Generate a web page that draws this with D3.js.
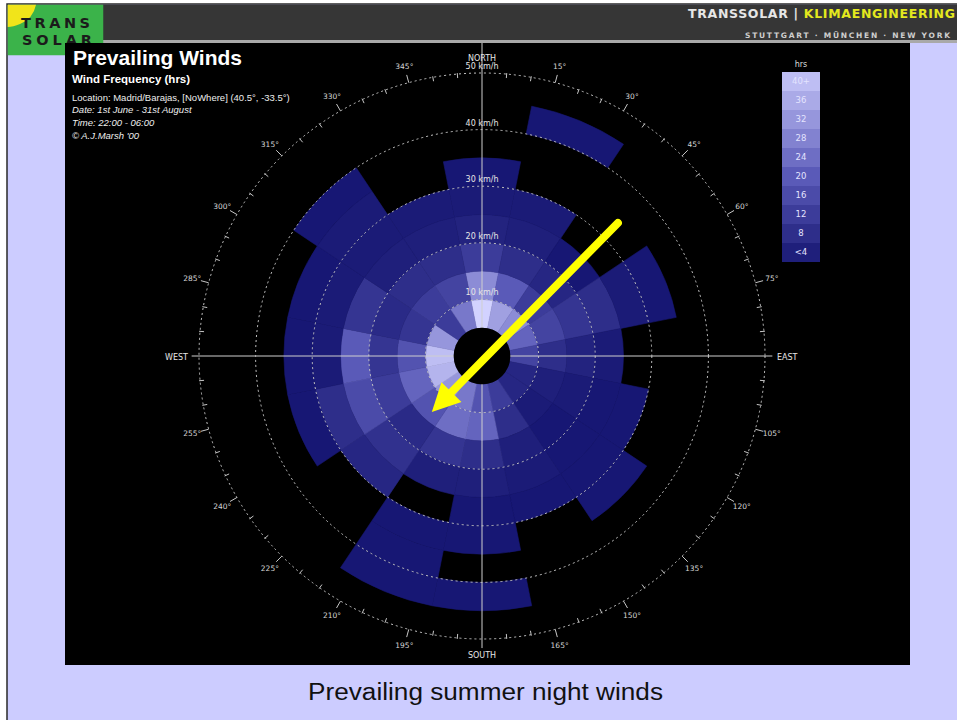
<!DOCTYPE html>
<html>
<head>
<meta charset="utf-8">
<script src="https://cdn.jsdelivr.net/npm/d3@7"></script>
<style>
  body { margin: 0; background: #ffffff; }
  svg { display: block; }
</style>
</head>
<body>
<svg id="page" width="957" height="720"></svg>
<script>
// ---- data -------------------------------------------------------------
// 16 compass sectors, clockwise from north
const directions = ["N","NNE","NE","ENE","E","ESE","SE","SSE","S","SSW","SW","WSW","W","WNW","NW","NNW"];
// wind-speed bin edges (km/h); each sector holds hours for 5-10, 10-15, ... 45-50
const speedEdges = [5, 10, 15, 20, 25, 30, 35, 40, 45, 50];

const hrsN   = [44, 30, 12,  5, 3, 2, 0, 0, 0];
const hrsNNE = [34, 20,  8,  4, 3, 0, 0, 2, 0];
const hrsNE  = [30, 12,  6,  2, 0, 0, 0, 0, 0];
const hrsENE = [22, 14, 10,  8, 3, 2, 0, 0, 0];
const hrsE   = [14,  8,  5,  3, 0, 0, 0, 0, 0];
const hrsESE = [ 6,  4,  3,  2, 2, 0, 0, 0, 0];
const hrsSE  = [ 6,  3,  2,  2, 2, 2, 0, 0, 0];
const hrsSSE = [12,  8,  4,  3, 2, 0, 0, 0, 0];
const hrsS   = [18, 22,  8,  4, 2, 2, 0, 2, 0];
const hrsSSW = [26, 24, 10,  4, 0, 2, 2, 2, 0];
const hrsSW  = [32, 18,  7,  9, 6, 0, 0, 0, 0];
const hrsWSW = [38, 22, 12, 16, 8, 2, 0, 0, 0];
const hrsW   = [40, 18, 10, 20, 3, 2, 0, 0, 0];
const hrsWNW = [32, 10,  7, 10, 3, 2, 0, 0, 0];
const hrsNW  = [12, 12,  8,  4, 3, 3, 2, 0, 0];
const hrsNNW = [26, 14,  8,  4, 3, 0, 0, 0, 0];
const frequency = [hrsN,hrsNNE,hrsNE,hrsENE,hrsE,hrsESE,hrsSE,hrsSSE,hrsS,hrsSSW,hrsSW,hrsWSW,hrsW,hrsWNW,hrsNW,hrsNNW];

const ringSpeeds   = [10, 20, 30, 40, 50];
const legendValues = [40, 36, 32, 28, 24, 20, 16, 12, 8, 4];
const legendLabels = ["40+","36","32","28","24","20","16","12","8","<4"];
const bearings     = [15,30,45,60,75,105,120,135,150,165,195,210,225,240,255,285,300,315,330,345];

const infoLines = [
  {text: "Location: Madrid/Barajas, [NoWhere] (40.5°, -33.5°)", italic: false},
  {text: "Date: 1st June - 31st August", italic: true},
  {text: "Time: 22:00 - 06:00", italic: true},
  {text: "© A.J.Marsh '00", italic: true}
];

// ---- page frame ---------------------------------------------------------
const W = 957, H = 720;
const svg = d3.select("#page");

svg.append("rect").attr("x", 7).attr("y", 4).attr("width", W + 10).attr("height", H)
  .attr("fill", "#ccccff").attr("stroke", "#2a2a2a").attr("stroke-width", 1.5);

// header bar
svg.append("rect").attr("x", 103).attr("y", 4.75).attr("width", W - 103).attr("height", 35.5).attr("fill", "#363636");
svg.append("rect").attr("x", 103).attr("y", 40).attr("width", W - 103).attr("height", 3).attr("fill", "#a9a9a9");

// logo block
const logo = svg.append("g");
logo.append("rect").attr("x", 7.75).attr("y", 4.75).attr("width", 95.5).attr("height", 50.5).attr("fill", "#3bb34a");
logo.append("path").attr("d", "M7.75,4.75 H36 Q33,19 20,24 Q13,27 7.75,27 Z").attr("fill", "#f1e41a");
logo.append("text").attr("x", 21).attr("y", 27.5).attr("textLength", 69).attr("lengthAdjust", "spacing")
  .attr("font-family", "DejaVu Sans").attr("font-weight", "bold").attr("font-size", 14.5).attr("fill", "#1b1b1b").text("TRANS");
logo.append("text").attr("x", 22).attr("y", 44.5).attr("textLength", 70).attr("lengthAdjust", "spacing")
  .attr("font-family", "DejaVu Sans").attr("font-weight", "bold").attr("font-size", 14.5).attr("fill", "#1b1b1b").text("SOLAR");

const brand = svg.append("text").attr("x", 955).attr("y", 18).attr("text-anchor", "end")
  .attr("font-family", "DejaVu Sans").attr("font-weight", "bold").attr("font-size", 12.5)
  .attr("textLength", 267).attr("lengthAdjust", "spacing");
brand.append("tspan").attr("fill", "#e6e6e6").text("TRANSSOLAR | ");
brand.append("tspan").attr("fill", "#e3e81e").text("KLIMAENGINEERING");
svg.append("text").attr("x", 950).attr("y", 37.5).attr("text-anchor", "end")
  .attr("font-family", "DejaVu Sans").attr("font-weight", "bold").attr("font-size", 7.5)
  .attr("textLength", 205).attr("lengthAdjust", "spacing").attr("fill", "#cfcfcf")
  .text("STUTTGART · MÜNCHEN · NEW YORK");

// chart panel
svg.append("rect").attr("x", 65).attr("y", 43).attr("width", 845).attr("height", 622).attr("fill", "#000000");

// caption
svg.append("text").attr("x", 485.5).attr("y", 700).attr("text-anchor", "middle")
  .attr("font-family", "Liberation Sans, Arial, sans-serif").attr("font-size", 23).attr("fill", "#111111")
  .attr("textLength", 355).attr("lengthAdjust", "spacingAndGlyphs")
  .text("Prevailing summer night winds");

// ---- titles -------------------------------------------------------------
const sans = "Liberation Sans, Arial, sans-serif";
svg.append("text").attr("x", 73).attr("y", 65).attr("font-family", sans).attr("font-weight", "bold")
  .attr("font-size", 21).attr("fill", "#ffffff").text("Prevailing Winds");
svg.append("text").attr("x", 72).attr("y", 83).attr("font-family", sans).attr("font-weight", "bold")
  .attr("font-size", 11.5).attr("fill", "#ffffff").text("Wind Frequency (hrs)");
svg.selectAll("text.info").data(infoLines).join("text").attr("class", "info")
  .attr("x", 72).attr("y", (d, i) => [101, 113, 126, 139][i])
  .attr("font-family", sans).attr("font-size", 9.5).attr("font-style", d => d.italic ? "italic" : "normal")
  .attr("fill", "#eeeeee").text(d => d.text);

// ---- wind rose ----------------------------------------------------------
const cx = 482, cy = 356;
const rose = svg.append("g").attr("transform", `translate(${cx},${cy})`);
const r = d3.scaleLinear().domain([0, 50]).range([0, 283]);
const colour = d3.scaleLinear().domain([0, 20, 44]).range(["#10106c", "#5a5ab8", "#d2d2ff"]).clamp(true);
const sector = 2 * Math.PI / directions.length;
const rad = deg => deg * Math.PI / 180;

const cells = [];
frequency.forEach((row, di) => {
  row.forEach((h, bi) => {
    if (h > 0) cells.push({dir: directions[di], di, lo: speedEdges[bi], hi: speedEdges[bi + 1], hours: h});
  });
});

const arc = d3.arc()
  .innerRadius(d => r(d.lo)).outerRadius(d => r(d.hi))
  .startAngle(d => d.di * sector - sector / 2).endAngle(d => d.di * sector + sector / 2);

rose.selectAll("path.cell").data(cells).join("path").attr("class", "cell")
  .attr("d", arc).attr("fill", d => colour(d.hours))
  .attr("stroke", d => colour(d.hours)).attr("stroke-width", 0.6);

// speed rings
rose.selectAll("circle.ring").data(ringSpeeds).join("circle").attr("class", "ring")
  .attr("r", d => r(d)).attr("fill", "none").attr("stroke", "#c4c4c4")
  .attr("stroke-width", 1).attr("stroke-dasharray", "2,3");

// bearing ticks on the outer ring
const minor = d3.range(0, 360, 5).filter(a => a % 90 !== 0);
rose.selectAll("line.minor").data(minor).join("line").attr("class", "minor")
  .attr("x1", a => Math.sin(rad(a)) * (r(50) - (a % 15 === 0 ? 0 : 4)))
  .attr("y1", a => -Math.cos(rad(a)) * (r(50) - (a % 15 === 0 ? 0 : 4)))
  .attr("x2", a => Math.sin(rad(a)) * (r(50) + (a % 15 === 0 ? 8 : 1)))
  .attr("y2", a => -Math.cos(rad(a)) * (r(50) + (a % 15 === 0 ? 8 : 1)))
  .attr("stroke", "#c8c8c8").attr("stroke-width", 1);

// cross hairs
rose.append("line").attr("x1", -r(51.3)).attr("x2", r(51.3)).attr("y1", 0).attr("y2", 0)
  .attr("stroke", "#cfcfcf").attr("stroke-width", 1);
rose.append("line").attr("x1", 0).attr("x2", 0).attr("y1", -(cy - 43)).attr("y2", r(51.6))
  .attr("stroke", "#cfcfcf").attr("stroke-width", 1);

// calm centre
rose.append("circle").attr("r", r(speedEdges[0])).attr("fill", "#000000");

// ring labels
const labelFont = "DejaVu Sans, sans-serif";
rose.selectAll("text.speed").data(ringSpeeds).join("text").attr("class", "speed")
  .attr("x", 0).attr("y", d => -r(d) - 4).attr("text-anchor", "middle")
  .attr("font-family", labelFont).attr("font-size", 8).attr("fill", "#e6e6e6")
  .text(d => `${d} km/h`);

// bearing labels
rose.selectAll("text.bearing").data(bearings).join("text").attr("class", "bearing")
  .attr("x", a => Math.sin(rad(a)) * 300).attr("y", a => -Math.cos(rad(a)) * 300)
  .attr("dy", "0.35em").attr("text-anchor", "middle")
  .attr("font-family", labelFont).attr("font-size", 7.5).attr("fill", "#d6d6d6")
  .text(a => `${a}°`);

const cardinal = [
  {t: "NORTH", x: 0, y: -r(50) - 12, a: "middle"},
  {t: "SOUTH", x: 0, y: r(50) + 19, a: "middle"},
  {t: "WEST", x: -r(50) - 11, y: 4, a: "end"},
  {t: "EAST", x: r(50) + 12, y: 4, a: "start"}
];
rose.selectAll("text.cardinal").data(cardinal).join("text").attr("class", "cardinal")
  .attr("x", d => d.x).attr("y", d => d.y).attr("text-anchor", d => d.a)
  .attr("font-family", labelFont).attr("font-size", 8).attr("fill", "#e6e6e6").text(d => d.t);

// prevailing-direction arrow (NE -> SW)
const pt = (deg, kmh) => [Math.sin(rad(deg)) * r(kmh), -Math.cos(rad(deg)) * r(kmh)];
const a0 = pt(45.6, 33.6), tip = pt(221.8, 13.3);
const ux = tip[0] - a0[0], uy = tip[1] - a0[1], len = Math.hypot(ux, uy);
const dx = ux / len, dy = uy / len;
const headLen = 28, headHalf = 14;
const base = [tip[0] - dx * headLen, tip[1] - dy * headLen];
rose.append("line").attr("x1", a0[0]).attr("y1", a0[1]).attr("x2", base[0] + dx * 4).attr("y2", base[1] + dy * 4)
  .attr("stroke", "#ffff00").attr("stroke-width", 8).attr("stroke-linecap", "round");
rose.append("path")
  .attr("d", `M${tip[0]},${tip[1]} L${base[0] - dy * headHalf},${base[1] + dx * headHalf} L${base[0] + dy * headHalf},${base[1] - dx * headHalf} Z`)
  .attr("fill", "#ffff00");

// ---- legend -------------------------------------------------------------
const legend = svg.append("g").attr("transform", "translate(782,72)");
const rowH = 19;
legend.append("text").attr("x", 19).attr("y", -5).attr("text-anchor", "middle")
  .attr("font-family", labelFont).attr("font-size", 8).attr("fill", "#dddddd").text("hrs");
legend.selectAll("rect").data(legendValues).join("rect")
  .attr("x", 0).attr("y", (d, i) => i * rowH).attr("width", 38).attr("height", rowH)
  .attr("fill", d => colour(d));
legend.selectAll("text.lab").data(legendLabels).join("text").attr("class", "lab")
  .attr("x", 19).attr("y", (d, i) => i * rowH + rowH / 2).attr("dy", "0.35em").attr("text-anchor", "middle")
  .attr("font-family", labelFont).attr("font-size", 8.5).attr("fill", "#e4e4ff").text(d => d);
</script>
</body>
</html>
